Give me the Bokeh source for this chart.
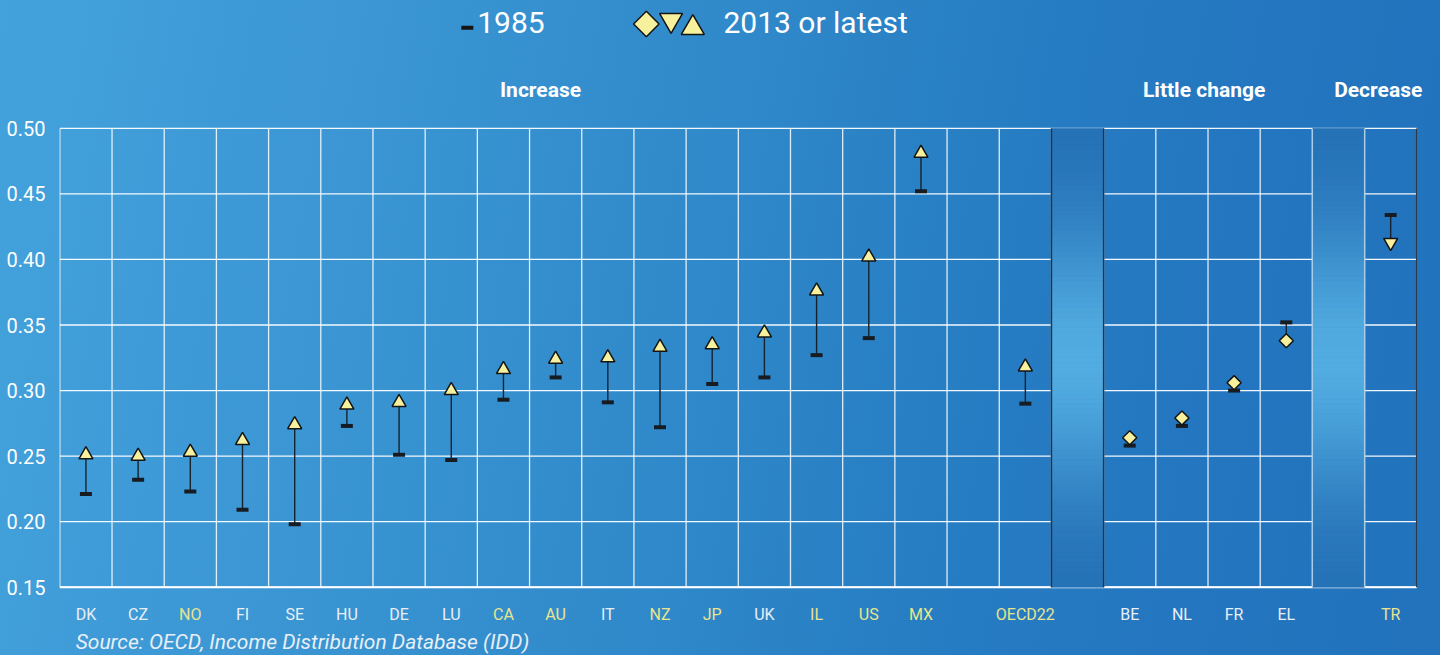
import math
from bokeh.plotting import figure
from bokeh.models import Range1d, FixedTicker, NumeralTickFormatter, ColumnDataSource
from bokeh.embed import file_html
from bokeh.resources import INLINE
from bokeh.core.properties import value

# ---------------- data ----------------
countries = ["DK", "CZ", "NO", "FI", "SE", "HU", "DE", "LU", "CA", "AU", "IT", "NZ",
             "JP", "UK", "IL", "US", "MX", "OECD22", "BE", "NL", "FR", "EL", "TR"]
gini_1985 = [0.221, 0.232, 0.223, 0.209, 0.198, 0.273, 0.251, 0.247, 0.293, 0.310, 0.291, 0.272,
             0.305, 0.310, 0.327, 0.340, 0.452, 0.290, 0.258, 0.273, 0.300, 0.352, 0.434]
gini_2013 = [0.251, 0.250, 0.253, 0.262, 0.274, 0.289, 0.291, 0.300, 0.316, 0.324, 0.325, 0.333,
             0.335, 0.344, 0.376, 0.402, 0.481, 0.318, 0.264, 0.279, 0.306, 0.338, 0.413]
change = ["up"] * 18 + ["flat"] * 4 + ["down"]
highlighted = ["NO", "CA", "AU", "NZ", "JP", "IL", "US", "MX", "OECD22", "TR"]
y_ticks = [0.15, 0.20, 0.25, 0.30, 0.35, 0.40, 0.45, 0.50]
groups = ["Increase", "Little change", "Decrease"]
legend_labels = ["1985", "2013 or latest"]
source_text = "Source: OECD, Income Distribution Database (IDD)"

# ---------------- layout (slots incl. gaps) ----------------
slots = countries[:17] + [None] + ["OECD22"] + [None] + countries[18:22] + [None] + ["TR"]
NCOL = len(slots)  # 26
xpos = {c: i + 0.5 for i, c in enumerate(slots) if c is not None}
gap_bands = [i for i, c in enumerate(slots) if c is None and i > 17]

FONT = "Roboto"
W, H = 1440, 655
SX, SY = W / 1456, H / 671          # reference px -> canvas px
L = 59                              # left panel (y axis) width
YMIN, YMAX = 0.15, 0.50
cx0, cx1 = 60 * SX, 1432 * SX       # plot-area left/right in canvas px
cy0, cy1 = 131 * SY, 601 * SY       # plot-area top/bottom in canvas px
PXU = (cx1 - cx0) / NCOL
PYU = (cy1 - cy0) / (YMAX - YMIN)


def dx(rx):
    return (rx * SX - cx0) / PXU


def dy(ry):
    return YMAX - (ry * SY - cy0) / PYU


p = figure(width=W, height=H, output_backend="svg", toolbar_location=None,
           x_axis_location=None,
           x_range=Range1d((L - cx0) / PXU, (W - cx0) / PXU),
           y_range=Range1d(YMAX - (H - cy0) / PYU, YMAX + cy0 / PYU),
           min_border_left=L, min_border_right=0, min_border_top=0, min_border_bottom=0)
p.styles = {"background": "linear-gradient(100deg, #43a2dc 0%, #3c97d4 22%, #318bcb 45%, #277ec3 65%, #2376bf 82%, #2272bc 100%)"}
p.border_fill_alpha = 0
p.background_fill_alpha = 0
p.outline_line_color = None
p.grid.grid_line_color = None

p.yaxis.ticker = FixedTicker(ticks=y_ticks)
p.yaxis.formatter = NumeralTickFormatter(format="0.00")
p.yaxis.axis_line_color = None
p.yaxis.major_tick_line_color = None
p.yaxis.minor_tick_line_color = None
p.yaxis.major_label_text_color = "white"
p.yaxis.major_label_text_font = FONT
p.yaxis.major_label_text_font_size = "20px"
p.yaxis.major_label_standoff = 8

# ---------------- grid (inside plot area only) ----------------
p.segment(x0=[0] * len(y_ticks), x1=[NCOL] * len(y_ticks), y0=y_ticks, y1=y_ticks,
          line_color="white", line_alpha=0.95, line_width=1.3)
vx = list(range(NCOL + 1))
p.segment(x0=vx, x1=vx, y0=[YMIN] * len(vx), y1=[YMAX] * len(vx),
          line_color="white", line_alpha=0.85, line_width=1.3)
p.segment(x0=[0], x1=[NCOL], y0=[YMIN], y1=[YMIN], line_color="white", line_width=2)

# ---------------- gap bands (vertical glow) ----------------
def mix(c1, c2, w):
    a = [int(c1[i:i + 2], 16) for i in (1, 3, 5)]
    b = [int(c2[i:i + 2], 16) for i in (1, 3, 5)]
    return "#%02x%02x%02x" % tuple(int(round(a[k] * (1 - w) + b[k] * w)) for k in range(3))

NS = 90
edge_c, glow_c = "#236fb5", "#52ace1"
bl, br, bb, bt, bc = [], [], [], [], []
for col in gap_bands:
    for s in range(NS):
        y0 = YMIN + (YMAX - YMIN) * s / NS
        y1 = YMIN + (YMAX - YMIN) * (s + 1) / NS
        ym = 0.5 * (y0 + y1)
        w = math.exp(-((ym - 0.324) / 0.10) ** 2)
        bl.append(col); br.append(col + 1); bb.append(y0); bt.append(y1)
        bc.append(mix(edge_c, glow_c, w))
p.quad(left=bl, right=br, bottom=bb, top=bt, fill_color=bc, line_color=bc, line_width=0.8)

g0, g1 = gap_bands
p.segment(x0=[g0, g0 + 1], x1=[g0, g0 + 1], y0=[YMIN] * 2, y1=[YMAX] * 2,
          line_color="#1c3553", line_width=1.5)
p.segment(x0=[g1, g1 + 1], x1=[g1, g1 + 1], y0=[YMIN] * 2, y1=[YMAX] * 2,
          line_color="#a9cde9", line_width=1.3)
p.segment(x0=[NCOL], x1=[NCOL], y0=[YMIN], y1=[YMAX], line_color="#2c3a48", line_width=1.6)

# ---------------- data marks ----------------
xs = [xpos[c] for c in countries]
marker_map = {"up": "triangle", "flat": "square", "down": "inverted_triangle"}
angle_map = {"up": 0.0, "flat": math.pi / 4, "down": 0.0}
size_map = {"up": 14, "flat": 10, "down": 14}
src = ColumnDataSource(dict(
    x=xs, y85=gini_1985, y13=gini_2013, name=countries,
    marker=[marker_map[c] for c in change],
    angle=[angle_map[c] for c in change],
    size=[size_map[c] for c in change],
))
p.segment(x0="x", y0="y85", x1="x", y1="y13", source=src, line_color="#16222e", line_width=1.4)
p.scatter(x="x", y="y85", source=src, marker="dash", size=12, line_color="#161c22", line_width=4)
p.scatter(x="x", y="y13", source=src, marker="marker", angle="angle", size="size",
          fill_color="#f7f09c", line_color="#141414", line_width=1.5)

# ---------------- category labels ----------------
lab_src = ColumnDataSource(dict(
    x=xs, y=[dy(629)] * len(countries), text=countries,
    color=["#e8e58c" if c in highlighted else "#e8eff6" for c in countries],
))
p.text(x="x", y="y", text="text", source=lab_src, text_color="color",
       text_align="center", text_baseline="middle",
       text_font=value(FONT), text_font_size="16px")

# ---------------- group headers ----------------
p.text(x=[dx(546), dx(1217), dx(1393)], y=[dy(92)] * 3, text=groups,
       text_align="center", text_baseline="middle", text_color="white",
       text_font=value(FONT), text_font_size="21px", text_font_style="bold")

# ---------------- legend ----------------
p.scatter(x=[dx(472)], y=[dy(28)], marker="dash", size=12, line_color="#151515", line_width=4)
p.scatter(x=[dx(653)], y=[dy(24)], marker="square", angle=math.pi / 4, size=18,
          fill_color="#f7f09c", line_color="#141414", line_width=1.5)
p.scatter(x=[dx(678)], y=[dy(20)], marker="inverted_triangle", size=23,
          fill_color="#f7f09c", line_color="#141414", line_width=1.5)
p.scatter(x=[dx(700)], y=[dy(28)], marker="triangle", size=23,
          fill_color="#f7f09c", line_color="#141414", line_width=1.5)
p.text(x=[dx(482), dx(731)], y=[dy(23)] * 2, text=legend_labels,
       text_align="left", text_baseline="middle", text_color="white",
       text_font=value(FONT), text_font_size="30px")

# ---------------- source ----------------
p.text(x=[dx(76)], y=[dy(657)], text=[source_text], text_align="left",
       text_baseline="middle", text_color="#e8eff6", text_font=value(FONT),
       text_font_size="21px", text_font_style="italic")

open("out.html", "w").write(file_html(p, INLINE))
